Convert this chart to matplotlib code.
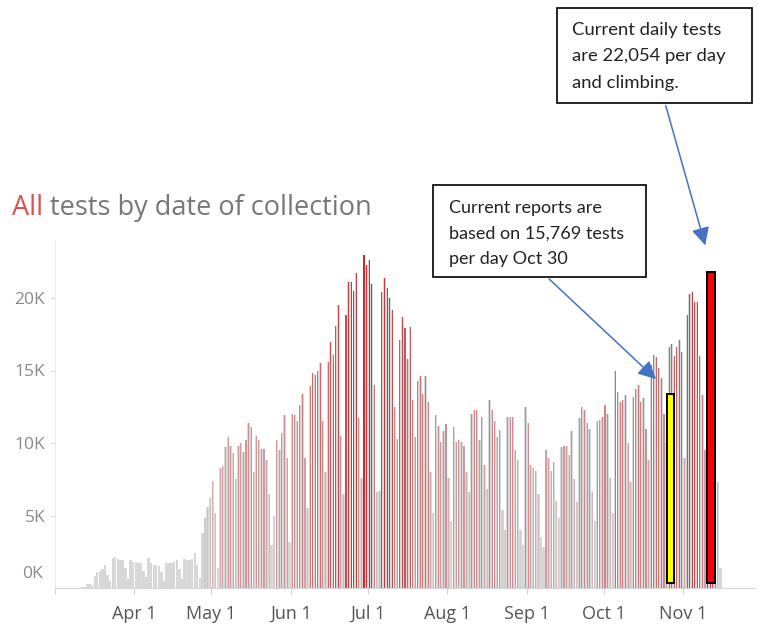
import numpy as np
import pandas as pd
import matplotlib
matplotlib.use("Agg")
import matplotlib.pyplot as plt
import matplotlib.dates as mdates
from matplotlib.colors import LinearSegmentedColormap, Normalize
from matplotlib.patches import Rectangle, FancyArrowPatch

# daily tests (thousands) by date of collection
first_day = "2020-03-09"
tests_mar = [0, 0, 0.05, 0.1, 0.3, 0.3, 0.2,
             0.8, 1.1, 1.2, 1.3, 1.6, 0.9, 0.5,
             2.05, 2.15, 2.0, 1.9, 1.9, 1.4, 0.65,
             1.9, 1.8]
tests_apr = [1.8, 1.75, 1.7, 1.2, 0.75,
             2.1, 1.7, 1.6, 1.6, 1.5, 1.1, 0.5,
             1.7, 1.7, 1.7, 1.8, 1.9, 1.3, 0.6,
             2.0, 1.9, 1.9, 2.0, 2.4, 1.6, 0.7,
             3.8, 4.8, 5.6, 6.2]
tests_may = [7.4, 5.2, 1.4,
             8.3, 8.4, 9.7, 10.4, 9.8, 9.3, 7.5,
             9.8, 10.0, 9.4, 10.2, 11.4, 11.1, 8.0,
             10.5, 10.2, 9.6, 9.6, 8.8, 6.5, 3.0,
             5.0, 10.2, 9.5, 10.7, 11.9, 9.0, 3.2]
tests_jun = [12.0, 11.9, 11.5, 12.6, 13.4, 9.0, 5.5,
             13.9, 14.8, 14.7, 15.0, 15.5, 11.5, 8.0,
             15.6, 17.0, 16.1, 18.1, 19.5, 10.5, 6.5,
             18.8, 21.1, 21.1, 20.5, 21.7, 11.7, 7.6,
             23.0, 22.3]
tests_jul = [22.6, 21.0, 14.0, 6.6, 6.7,
             20.4, 21.4, 20.7, 20.0, 19.2, 12.5, 10.3,
             17.1, 18.7, 17.9, 15.8, 18.0, 13.0, 10.4,
             14.3, 14.6, 13.4, 14.6, 12.8, 8.0, 5.2,
             11.9, 11.2, 10.1, 10.8, 11.3]
tests_aug = [7.6, 4.6,
             11.1, 10.1, 10.2, 10.1, 9.8, 8.0, 6.6,
             12.0, 12.3, 12.3, 10.2, 11.8, 8.5, 6.8,
             13.0, 12.3, 11.5, 10.4, 10.9, 5.4, 4.0,
             11.8, 11.8, 11.8, 9.5, 8.8, 4.0, 3.0,
             12.5]
tests_sep = [11.4, 8.5, 8.3, 8.1, 6.5, 3.5,
             2.8, 9.5, 9.0, 8.1, 8.7, 6.0, 4.8,
             9.7, 9.8, 9.8, 9.2, 10.8, 7.5, 5.9,
             11.7, 12.5, 12.3, 11.4, 11.0, 6.6, 4.6,
             11.5, 11.6, 11.8]
tests_oct = [12.6, 12.0, 7.6, 5.2,
             15.0, 13.5, 12.8, 13.0, 13.3, 10.0, 7.3,
             13.2, 13.7, 14.0, 12.8, 13.1, 11.0, 8.8,
             15.4, 16.1, 15.9, 15.2, 14.5, 12.0, 10.0,
             16.6, 16.8, 16.0, 16.6, 17.1, 16.3]
tests_nov = [9.0,
             18.8, 20.3, 20.4, 19.7, 19.7, 16.0, 13.3,
             9.5, 21.5, 21.0, 19.0, 15.9, 7.3, 1.4]

# hand drawn highlight bars (thousands)
highlight_days = ["2020-10-27 01:00", "2020-11-11 20:00"]
highlight_values = [13.4, 21.8]

month_ticks = ["2020-03-01", "2020-04-01", "2020-05-01", "2020-06-01", "2020-07-01",
               "2020-08-01", "2020-09-01", "2020-10-01", "2020-11-01"]
month_labels = ["", "Apr 1", "May 1", "Jun 1", "Jul 1", "Aug 1", "Sep 1", "Oct 1", "Nov 1"]
y_ticks = [5, 10, 15, 20]
y_labels = ["5K", "10K", "15K", "20K"]

note_daily = "Current daily tests\nare 22,054 per day\nand climbing."
note_reports = "Current reports are\nbased on 15,769 tests\nper day Oct 30"

W, H = 758, 627

values = np.array(tests_mar + tests_apr + tests_may + tests_jun + tests_jul
                  + tests_aug + tests_sep + tests_oct + tests_nov) * 1000
days = pd.date_range(first_day, periods=len(values), freq="D")
x = mdates.date2num(days) + 0.5

fig = plt.figure(figsize=(W / 100, H / 100), dpi=100)
ax = fig.add_axes([55 / W, 39 / H, 700 / W, 348 / H])

#bars: light grey body with a core that goes from grey to red with the value
cmap = LinearSegmentedColormap.from_list("grey_red", ["#d6d6d6", "#c62a2f"])
norm = Normalize(3000, 23000)
ax.bar(x, values, width=0.92, color="#d9d9d9", linewidth=0, zorder=2)
ax.bar(x, values, width=0.42, color=cmap(norm(values)), linewidth=0, zorder=3)

#highlights drawn on top
hx = mdates.date2num(pd.to_datetime(highlight_days))
hv = np.array(highlight_values) * 1000
ax.bar(hx, hv - 350, bottom=350, width=3.0, color=["#ffff00", "#ff0000"],
       edgecolor="black", linewidth=1.4, zorder=4)

ax.set_xlim(mdates.date2num(pd.Timestamp("2020-03-01")), mdates.date2num(pd.Timestamp("2020-11-29")))
ax.set_ylim(0, 24000)

ax.set_xticks(mdates.date2num(pd.to_datetime(month_ticks)))
ax.set_xticklabels(month_labels, fontsize=13, color="#555555", family="Open Sans")
ax.set_yticks(np.array(y_ticks) * 1000)
ax.set_yticklabels(y_labels, fontsize=12.5, color="#8a8a8a", family="Open Sans")
ax.tick_params(axis="x", length=4, color="#d0d0d0", pad=8)
ax.tick_params(axis="y", length=3, color="#d0d0d0", pad=4)
# tableau puts the 0K label a bit above the baseline
ax.annotate("0K", xy=(0, 0), xycoords=("axes fraction", "data"), xytext=(-12, 14),
            textcoords="offset pixels", ha="right", va="center", fontsize=12.5,
            color="#8a8a8a", family="Open Sans")

for s in ["top", "right"]:
    ax.spines[s].set_visible(False)
ax.spines["left"].set_color("#ebebeb")
ax.spines["bottom"].set_color("#d6d6d6")

#title, "All" in red
t1 = fig.text(12 / W, 1 - 215 / H, "All", color="#d9534f", fontsize=19.5,
              family="Open Sans", va="baseline")
ax.annotate(" tests by date of collection", xy=(1, 0), xycoords=t1, va="bottom",
            ha="left", color="#777777", fontsize=19.5, family="Open Sans",
            annotation_clip=False)

#call-out boxes
def note(text, left, top, right, bottom, tx, ty, step, size):
    fig.add_artist(Rectangle((left / W, 1 - bottom / H), (right - left) / W, (bottom - top) / H,
                             transform=fig.transFigure, facecolor="white",
                             edgecolor="black", linewidth=1.2, zorder=5))
    for i, line in enumerate(text.split("\n")):
        fig.text(tx / W, 1 - (ty + i * step) / H, line, fontsize=size, family="Lato",
                 color="#222222", va="center", ha="left", zorder=6)

note(note_daily, 557, 8, 752, 103, 572, 30, 26.5, 13.3)
note(note_reports, 433, 185, 646, 277, 449, 208, 25.5, 13.0)

def arrow(x0, y0, x1, y1):
    fig.add_artist(FancyArrowPatch((x0 / W, 1 - y0 / H), (x1 / W, 1 - y1 / H),
                                   transform=fig.transFigure, color="#4472c4",
                                   linewidth=1.1, arrowstyle="-|>,head_length=0.9,head_width=0.45",
                                   mutation_scale=12, zorder=7))

arrow(665, 103, 706, 248)
arrow(547, 277, 658, 381)

fig.savefig("out.png", dpi=100)
